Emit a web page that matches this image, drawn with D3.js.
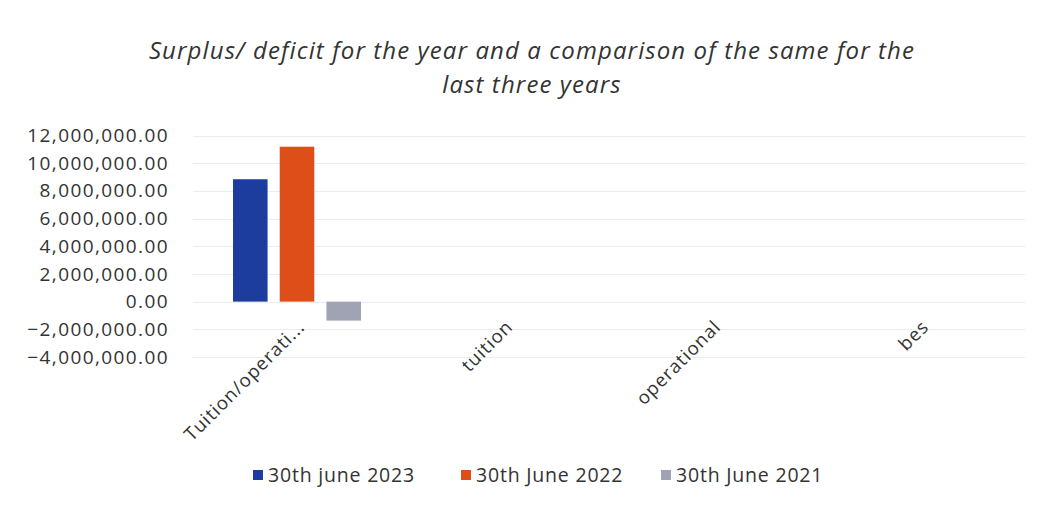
<!DOCTYPE html>
<html>
<head>
<meta charset="utf-8">
<script src="https://cdn.jsdelivr.net/npm/d3@7"></script>
<style>
  html, body { margin: 0; padding: 0; background: #fff; }
  svg { display: block; }
</style>
</head>
<body>
<svg id="chart" width="1039" height="510"></svg>
<script>
// Categories along the x axis
const categories = ["Tuition/operati...", "tuition", "operational", "bes"];
// One series per year-end; only the first category carries values
const seriesNames = ["30th june 2023", "30th June 2022", "30th June 2021"];
const values2023 = [8840000, null, null, null];
const values2022 = [11190000, null, null, null];
const values2021 = [-1370000, null, null, null];
const seriesColors = ["#1c3d9e", "#dd4e18", "#a0a3b4"];
// Y axis tick values
const yTicks = [12000000, 10000000, 8000000, 6000000, 4000000, 2000000, 0, -2000000, -4000000];
const titleLines = ["Surplus/ deficit for the year and a comparison of the same for the", "last three years"];

const seriesValues = [values2023, values2022, values2021];

const svg = d3.select("#chart");
const font = "'Open Sans', sans-serif";

const plot = { left: 193, right: 1025, top: 135.5, bottom: 357 };

const y = d3.scaleLinear().domain([-4000000, 12000000]).range([plot.bottom, plot.top]);
const x0 = d3.scaleBand().domain(categories).range([plot.left, plot.right]).paddingInner(0).paddingOuter(0);
// bars inside each group
const groupInner = d3.scaleBand().domain(d3.range(seriesNames.length))
  .range([0, 128]).paddingInner(0.26).paddingOuter(0);

// Title
svg.append("g").selectAll("text").data(titleLines).join("text")
  .attr("x", 532)
  .attr("y", (d, i) => 59 + i * 34)
  .attr("text-anchor", "middle")
  .attr("font-family", font)
  .attr("font-style", "italic")
  .attr("font-size", 24)
  .attr("letter-spacing", 1.1)
  .attr("fill", "#333")
  .text(d => d);

// Gridlines
svg.append("g").selectAll("line").data(yTicks).join("line")
  .attr("x1", plot.left).attr("x2", plot.right)
  .attr("y1", d => Math.round(y(d)) + 0.5).attr("y2", d => Math.round(y(d)) + 0.5)
  .attr("stroke", "#ececec").attr("stroke-width", 1);

// Y axis labels
const fmt = d3.format(",.2f");
const yAxis = d3.axisLeft(y).tickValues(yTicks).tickSize(0).tickPadding(0).tickFormat(fmt);
const yg = svg.append("g").attr("transform", `translate(169,0)`).call(yAxis);
yg.select(".domain").remove();
yg.selectAll("text")
  .attr("font-family", font)
  .attr("font-size", 19)
  .attr("letter-spacing", 1.4)
  .attr("fill", "#333");

// Bars
const groups = svg.append("g").selectAll("g").data(categories).join("g")
  .attr("transform", d => `translate(${x0(d) + x0.bandwidth() / 2 - 64},0)`);
groups.selectAll("rect")
  .data((c, ci) => seriesValues.map((vals, si) => ({ si, v: vals[ci] })).filter(d => d.v != null))
  .join("rect")
  .attr("x", d => groupInner(d.si))
  .attr("width", groupInner.bandwidth())
  .attr("y", d => y(Math.max(0, d.v)))
  .attr("height", d => Math.abs(y(d.v) - y(0)))
  .attr("fill", d => seriesColors[d.si]);

// X axis labels, rotated
svg.append("g").selectAll("text").data(categories).join("text")
  .attr("transform", d => `translate(${x0(d) + x0.bandwidth() / 2 + 9},${328}) rotate(-45)`)
  .attr("text-anchor", "end")
  .attr("font-family", font)
  .attr("font-size", 18.5)
  .attr("letter-spacing", 1)
  .attr("fill", "#333")
  .text(d => d);

// Legend
const legendX = [253, 461, 661];
const lg = svg.append("g").selectAll("g").data(seriesNames).join("g")
  .attr("transform", (d, i) => `translate(${legendX[i]},475)`);
lg.append("rect").attr("x", 0).attr("y", -5).attr("width", 10).attr("height", 10)
  .attr("fill", (d, i) => seriesColors[i]);
lg.append("text").attr("x", 15).attr("y", 0).attr("dy", "0.35em")
  .attr("font-family", font).attr("font-size", 19.5).attr("letter-spacing", 0.8).attr("fill", "#333")
  .text(d => d);
</script>
</body>
</html>
